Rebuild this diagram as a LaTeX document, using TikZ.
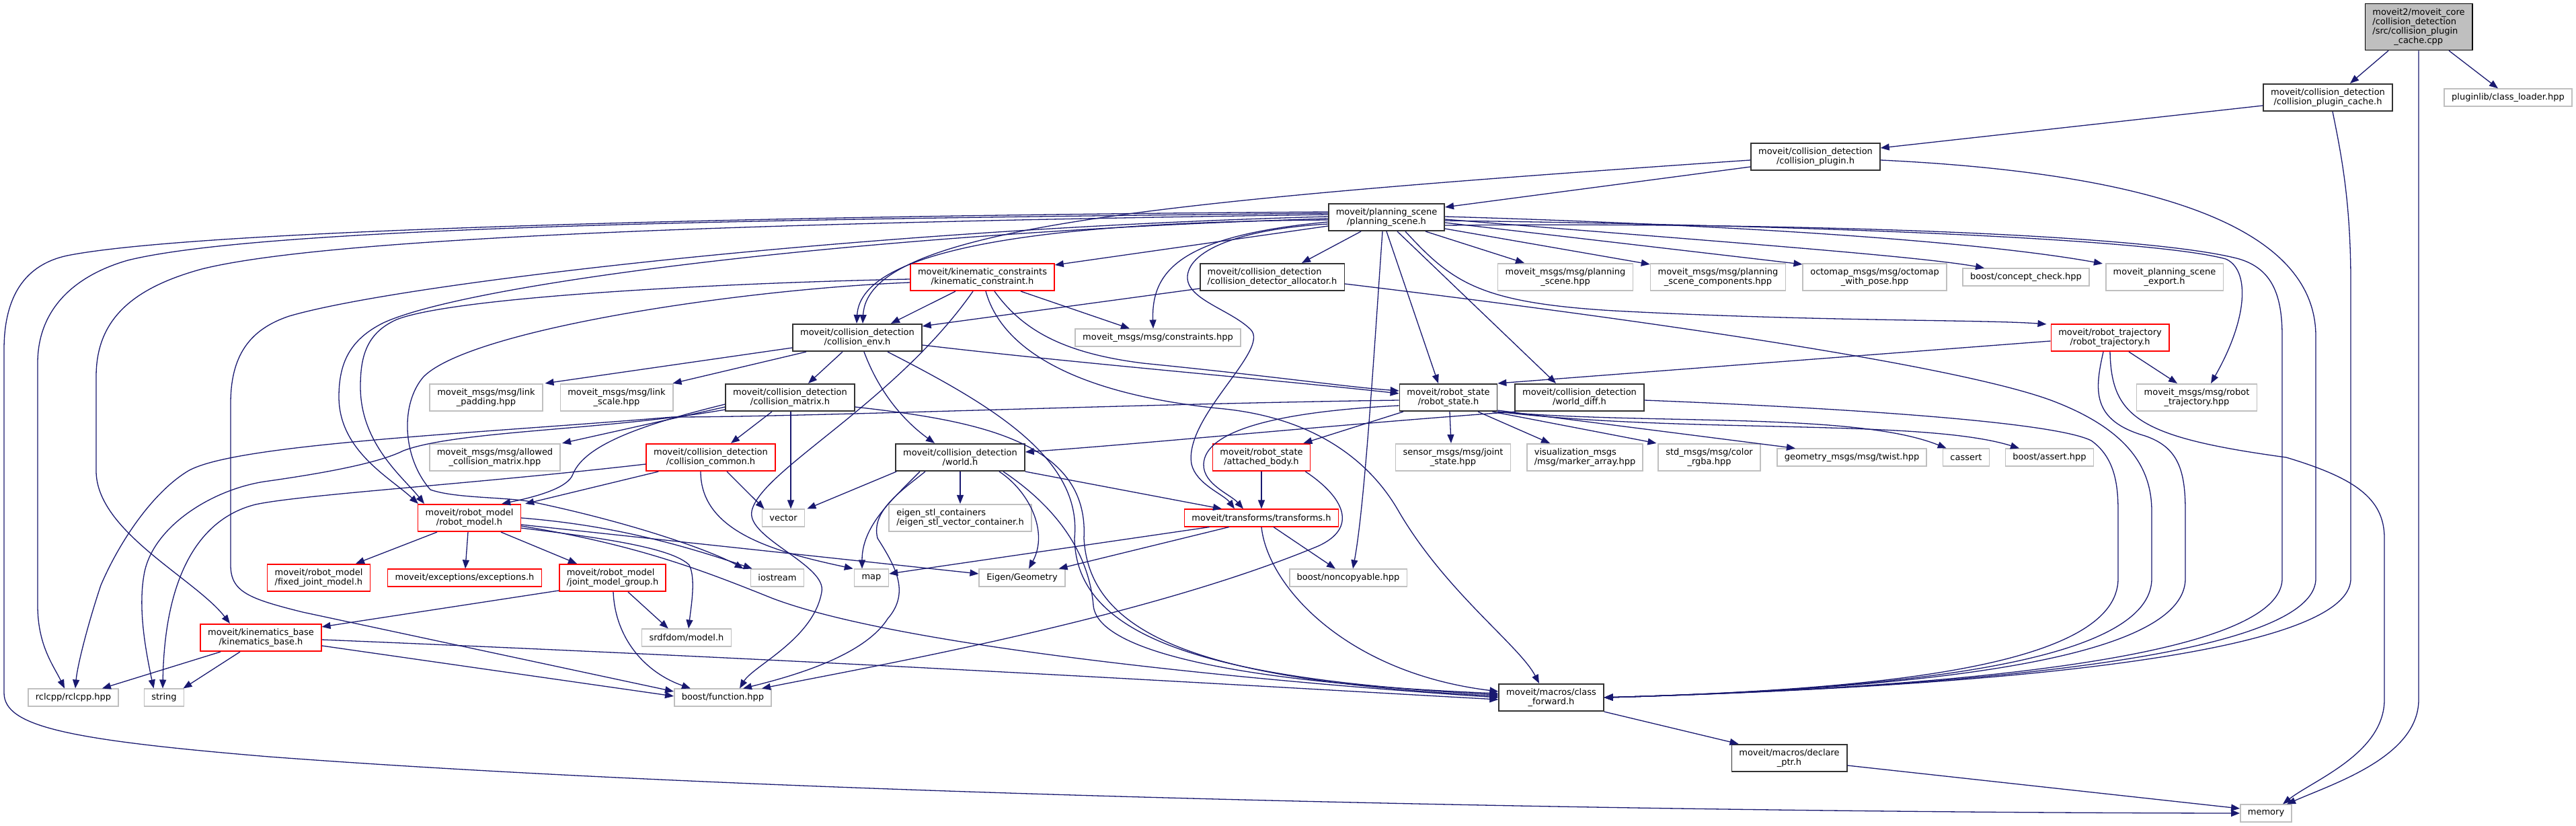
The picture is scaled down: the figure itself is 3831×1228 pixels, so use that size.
\documentclass[tikz,border=0pt]{standalone}
\usepackage{fontspec}
\usepackage{xcolor}
\usepackage{tikz}
\usetikzlibrary{arrows.meta, calc}
\newfontfamily\igfont{DejaVu Sans}
\definecolor{ig-edge}{RGB}{25,25,112}
\definecolor{ig-red}{RGB}{255,0,0}
\definecolor{ig-grey}{RGB}{191,191,191}
\definecolor{ig-dark}{RGB}{50,50,50}
\tikzset{
  ig@file/.style={
    draw=ig-dark, fill=white, line width=1.6pt,
    inner xsep=11pt, inner ysep=0pt, minimum height=25.5pt,
    align=center, font=\igfont\fontsize{13pt}{14pt}\selectfont
  },
  ig@red/.style={ig@file, draw=ig-red},
  ig@ext/.style={ig@file, draw=ig-grey},
  ig@root/.style={ig@file, draw=black, fill=ig-grey, minimum height=69pt, align=left},
  ig@two/.style={minimum height=40.5pt},
  ig@left/.style={align=left},
  ig@arr/.style={-{Triangle[length=13pt,width=10pt]}, draw=ig-edge, line width=1.3pt},
}
\begin{document}
\begin{tikzpicture}[x=1pt, y=-1pt]
  \path[use as bounding box, fill=white] (0,0) rectangle (3831,1228);

  \node[ig@root] (cpp) at (3597,40) {moveit2/moveit\_core\\/collision\_detection\\/src/collision\_plugin\\\hspace*{32pt}\_cache.cpp};
  \node[ig@file, ig@two] (pcache) at (3462,145) {moveit/collision\_detection\\/collision\_plugin\_cache.h};
  \node[ig@ext] (loader) at (3730,145) {pluginlib/class\_loader.hpp};
  \node[ig@file, ig@two] (plugin) at (2700,233) {moveit/collision\_detection\\/collision\_plugin.h};
  \node[ig@file, ig@two] (pscene) at (2062,323) {moveit/planning\_scene\\/planning\_scene.h};
  \node[ig@red, ig@two] (kin) at (1461,412) {moveit/kinematic\_constraints\\/kinematic\_constraint.h};
  \node[ig@file, ig@two, ig@left] (alloc) at (1892,412) {moveit/collision\_detection\\/collision\_detector\_allocator.h};
  \node[ig@ext, ig@two] (msgps) at (2328,412) {moveit\_msgs/msg/planning\\\_scene.hpp};
  \node[ig@ext, ig@two] (comps) at (2555,412) {moveit\_msgs/msg/planning\\\_scene\_components.hpp};
  \node[ig@ext, ig@two] (octo) at (2788,412) {octomap\_msgs/msg/octomap\\\_with\_pose.hpp};
  \node[ig@ext] (concept) at (3013,412) {boost/concept\_check.hpp};
  \node[ig@ext, ig@two] (pexport) at (3219,412) {moveit\_planning\_scene\\\_export.h};
  \node[ig@file, ig@two] (cenv) at (1275,502) {moveit/collision\_detection\\/collision\_env.h};
  \node[ig@ext] (constr) at (1722,502) {moveit\_msgs/msg/constraints.hpp};
  \node[ig@red, ig@two] (rtraj) at (3138,502) {moveit/robot\_trajectory\\/robot\_trajectory.h};
  \node[ig@ext, ig@two] (lpad) at (723,591) {moveit\_msgs/msg/link\\\_padding.hpp};
  \node[ig@ext, ig@two] (lscale) at (917,591) {moveit\_msgs/msg/link\\\_scale.hpp};
  \node[ig@file, ig@two] (cmatrix) at (1175,591) {moveit/collision\_detection\\/collision\_matrix.h};
  \node[ig@file, ig@two] (rstate) at (2154,591) {moveit/robot\_state\\/robot\_state.h};
  \node[ig@file, ig@two] (wdiff) at (2349,591) {moveit/collision\_detection\\/world\_diff.h};
  \node[ig@ext, ig@two] (rtrajmsg) at (3267,591) {moveit\_msgs/msg/robot\\\_trajectory.hpp};
  \node[ig@ext, ig@two] (acm) at (736,680) {moveit\_msgs/msg/allowed\\\_collision\_matrix.hpp};
  \node[ig@red, ig@two] (ccommon) at (1057,680) {moveit/collision\_detection\\/collision\_common.h};
  \node[ig@file, ig@two] (world) at (1428,680) {moveit/collision\_detection\\/world.h};
  \node[ig@red, ig@two] (abody) at (1876,680) {moveit/robot\_state\\/attached\_body.h};
  \node[ig@ext, ig@two] (jstate) at (2161,680) {sensor\_msgs/msg/joint\\\_state.hpp};
  \node[ig@ext, ig@two, ig@left] (marker) at (2357,680) {visualization\_msgs\\/msg/marker\_array.hpp};
  \node[ig@ext, ig@two] (rgba) at (2542,680) {std\_msgs/msg/color\\\_rgba.hpp};
  \node[ig@ext] (twist) at (2754,680) {geometry\_msgs/msg/twist.hpp};
  \node[ig@ext] (cassert) at (2924,680) {cassert};
  \node[ig@ext] (bassert) at (3048,680) {boost/assert.hpp};
  \node[ig@red, ig@two] (rmodel) at (698,770) {moveit/robot\_model\\/robot\_model.h};
  \node[ig@ext] (vector) at (1165,770) {vector};
  \node[ig@ext, ig@two, ig@left] (eigenstl) at (1428,770) {eigen\_stl\_containers\\/eigen\_stl\_vector\_container.h};
  \node[ig@red] (transforms) at (1876,770) {moveit/transforms/transforms.h};
  \node[ig@red, ig@two, ig@left] (fixed) at (474,859) {moveit/robot\_model\\/fixed\_joint\_model.h};
  \node[ig@red] (except) at (691,859) {moveit/exceptions/exceptions.h};
  \node[ig@red, ig@two, ig@left] (jmg) at (911,859) {moveit/robot\_model\\/joint\_model\_group.h};
  \node[ig@ext] (iostream) at (1156,859) {iostream};
  \node[ig@ext] (map) at (1296,859) {map};
  \node[ig@ext] (egeom) at (1520,859) {Eigen/Geometry};
  \node[ig@ext] (noncopy) at (2005,859) {boost/noncopyable.hpp};
  \node[ig@red, ig@two] (kbase) at (388,948) {moveit/kinematics\_base\\/kinematics\_base.h};
  \node[ig@ext] (srdf) at (1021,948) {srdfdom/model.h};
  \node[ig@ext] (rclcpp) at (109,1037) {rclcpp/rclcpp.hpp};
  \node[ig@ext] (string) at (244,1037) {string};
  \node[ig@ext] (bfunc) at (1075,1037) {boost/function.hpp};
  \node[ig@file, ig@two] (cfwd) at (2307,1037) {moveit/macros/class\\\_forward.h};
  \node[ig@file, ig@two] (dptr) at (2661,1127) {moveit/macros/declare\\\_ptr.h};
  \node[ig@ext] (memory) at (3370,1209) {memory};

  \draw[ig@arr] ($(cpp.south)+(-45,0)$) -- ($(pcache.north)+(33,0)$);
  \draw[ig@arr] ($(cpp.south)+(45,0)$) -- ($(loader.north)+(-15,0)$);
  \draw[ig@arr] (cpp.south) -- (3597,1040) .. controls (3597,1125) and (3470,1165) .. ($(memory.north east)+(-8,0)$);

  \draw[ig@arr] ($(pcache.west)+(0,12)$) -- ($(plugin.east)+(0,-13)$);
  \draw[ig@arr] ($(pcache.south)+(7,0)$) .. controls (3482,230) and (3496,300) .. (3496,420) -- (3496,860) .. controls (3496,990) and (2800,1025) .. (cfwd.east);

  \draw[ig@arr] ($(plugin.west)+(0,15)$) -- ($(pscene.east)+(0,-15)$);
  \draw[ig@arr] ($(plugin.west)+(0,5)$) .. controls (1700,300) and (1290,340) .. ($(cenv.north)+(8,0)$);
  \draw[ig@arr] ($(plugin.east)+(0,5)$) .. controls (3150,255) and (3444,320) .. (3444,500) -- (3444,860) .. controls (3444,990) and (2800,1025) .. (cfwd.east);

  \draw[ig@arr] ($(pscene.west)+(0,4)$) .. controls (1550,330) and (1280,370) .. ($(cenv.north)+(-1,0)$);
  \draw[ig@arr] ($(pscene.west)+(0,13)$) -- ($(kin.north east)+(0,3)$);
  \draw[ig@arr] ($(pscene.south)+(-38,0)$) -- ($(alloc.north)+(44,0)$);
  \draw[ig@arr] ($(pscene.south)+(58,0)$) -- ($(msgps.north)+(-61,0)$);
  \draw[ig@arr] ($(pscene.east)+(0,17)$) -- ($(comps.north west)+(0,2)$);
  \draw[ig@arr] ($(pscene.east)+(0,8)$) -- ($(octo.north west)+(0,2)$);
  \draw[ig@arr] ($(pscene.east)+(0,3)$) .. controls (2500,355) and (2850,380) .. ($(concept.north)+(-62,0)$);
  \draw[ig@arr] ($(pscene.east)+(0,-1)$) .. controls (2600,335) and (2950,360) .. ($(pexport.north west)+(-4,1)$);
  \draw[ig@arr] ($(pscene.east)+(0,5)$) .. controls (2700,335) and (3200,355) .. (3310,385) .. controls (3345,400) and (3345,470) .. ($(rtrajmsg.north)+(21,0)$);
  \draw[ig@arr] ($(pscene.east)+(0,12)$) .. controls (2700,330) and (3200,350) .. (3330,385) .. controls (3380,400) and (3394,440) .. (3394,500) -- (3394,860) .. controls (3394,990) and (2800,1025) .. (cfwd.east);
  \draw[ig@arr] ($(pscene.south)+(28,0)$) .. controls (2160,420) and (2200,450) .. (2400,462) .. controls (2700,478) and (2950,475) .. ($(rtraj.north west)+(-6,1)$);
  \draw[ig@arr] (pscene.south) -- ($(rstate.north)+(-15,0)$);
  \draw[ig@arr] ($(pscene.south)+(16,0)$) -- ($(wdiff.north)+(-35,0)$);
  \draw[ig@arr] ($(pscene.south)+(-6,0)$) .. controls (2045,500) and (2030,750) .. ($(noncopy.north)+(7,0)$);
  \draw[ig@arr] ($(pscene.west)+(0,7)$) .. controls (1760,350) and (1712,400) .. ($(constr.north)+(-7,0)$);
  \draw[ig@arr] ($(pscene.west)+(0,10)$) .. controls (1850,340) and (1770,370) .. (1766,410) .. controls (1763,445) and (1830,460) .. (1860,490) .. controls (1890,520) and (1760,620) .. (1772,690) .. controls (1779,720) and (1820,735) .. ($(transforms.north)+(-40,0)$);
  \draw[ig@arr] ($(pscene.west)+(0,-8)$) .. controls (1200,320) and (300,340) .. (100,380) .. controls (30,395) and (6,450) .. (6,520) -- (6,1030) .. controls (6,1080) and (100,1100) .. (400,1125) .. controls (1200,1185) and (2500,1208) .. (memory.west);
  \draw[ig@arr] ($(pscene.west)+(0,-6)$) .. controls (1200,325) and (400,335) .. (190,387) .. controls (110,410) and (56,460) .. (56,540) -- (56,900) .. controls (56,960) and (80,990) .. ($(rclcpp.north)+(-13,0)$);
  \draw[ig@arr] ($(pscene.west)+(0,-4)$) .. controls (1200,330) and (500,350) .. (300,400) .. controls (190,430) and (143,480) .. (143,560) -- (143,700) .. controls (143,790) and (290,860) .. ($(kbase.north)+(-46,0)$);
  \draw[ig@arr] ($(pscene.west)+(0,-1)$) .. controls (1300,340) and (600,420) .. (430,470) .. controls (370,490) and (343,530) .. (343,600) -- (343,840) .. controls (343,880) and (370,890) .. (450,910) -- ($(bfunc.west)+(0,-9)$);
  \draw[ig@arr] ($(pscene.west)+(0,2)$) .. controls (1300,345) and (700,420) .. (570,480) .. controls (520,505) and (504,540) .. (504,590) .. controls (504,670) and (580,710) .. ($(rmodel.north)+(-76,0)$);

  \draw[ig@arr] ($(kin.south)+(-40,0)$) -- ($(cenv.north)+(50,0)$);
  \draw[ig@arr] ($(kin.south)+(57,0)$) -- ($(constr.north)+(-42,0)$);
  \draw[ig@arr] ($(kin.west)+(0,3)$) .. controls (1100,420) and (680,440) .. (590,475) .. controls (545,495) and (536,530) .. (536,575) .. controls (536,660) and (600,710) .. ($(rmodel.north)+(-67,0)$);
  \draw[ig@arr] ($(kin.west)+(0,8)$) .. controls (1100,430) and (700,490) .. (630,560) .. controls (595,600) and (598,680) .. (640,728) .. controls (680,742) and (760,738) .. (800,748) .. controls (950,780) and (1060,820) .. ($(iostream.north west)+(-10,0)$);
  \draw[ig@arr] ($(kin.south)+(18,0)$) .. controls (1520,490) and (1580,525) .. (1700,540) .. controls (1900,560) and (2000,575) .. ($(rstate.west)+(0,-10)$);
  \draw[ig@arr] ($(kin.south)+(-14,0)$) .. controls (1330,600) and (1130,700) .. (1118,760) .. controls (1110,800) and (1230,840) .. (1222,880) .. controls (1210,950) and (1120,990) .. ($(bfunc.north)+(25,0)$);
  \draw[ig@arr] ($(kin.south)+(5,0)$) .. controls (1490,520) and (1600,585) .. (1811,607) .. controls (1960,620) and (2040,690) .. (2080,760) .. controls (2150,880) and (2260,960) .. ($(cfwd.north)+(-18,0)$);

  \draw[ig@arr] ($(alloc.west)+(0,17)$) -- ($(cenv.north east)+(0,4)$);
  \draw[ig@arr] ($(alloc.east)+(0,10)$) .. controls (2400,470) and (2900,540) .. (3050,595) .. controls (3170,640) and (3200,700) .. (3200,760) -- (3200,860) .. controls (3200,990) and (2800,1025) .. (cfwd.east);

  \draw[ig@arr] ($(cenv.west)+(0,15)$) -- ($(lpad.north east)+(3,0)$);
  \draw[ig@arr] ($(cenv.south)+(-76,0)$) -- ($(lscale.north east)+(-1,0)$);
  \draw[ig@arr] ($(cenv.south)+(-22,0)$) -- ($(cmatrix.north)+(27,0)$);
  \draw[ig@arr] ($(cenv.south)+(10,0)$) .. controls (1310,590) and (1350,630) .. ($(world.north)+(-38,0)$);
  \draw[ig@arr] ($(cenv.east)+(0,11)$) .. controls (1600,540) and (1900,565) .. ($(rstate.west)+(0,-6)$);
  \draw[ig@arr] ($(cenv.south)+(45,0)$) .. controls (1470,600) and (1610,680) .. (1598,800) .. controls (1600,950) and (1800,1010) .. ($(cfwd.west)+(0,-4)$);

  \draw[ig@arr] ($(cmatrix.south)+(-27,0)$) -- ($(ccommon.north)+(30,0)$);
  \draw[ig@arr] ($(cmatrix.west)+(0,14)$) -- ($(acm.north east)+(2,0)$);
  \draw[ig@arr] ($(cmatrix.west)+(0,10)$) .. controls (960,630) and (870,660) .. (852,705) .. controls (845,725) and (800,738) .. ($(rmodel.north east)+(-29,0)$);
  \draw[ig@arr] ($(cmatrix.west)+(0,18)$) .. controls (900,640) and (680,640) .. (600,670) .. controls (560,690) and (470,705) .. (400,715) .. controls (320,725) and (230,780) .. (215,850) .. controls (205,900) and (215,960) .. ($(string.north west)+(15,0)$);
  \draw[ig@arr] ($(cmatrix.south)+(1,0)$) -- ($(vector.north)+(11,0)$);
  \draw[ig@arr] ($(cmatrix.east)+(0,14)$) .. controls (1450,625) and (1620,655) .. (1612,800) .. controls (1620,950) and (1800,1012) .. ($(cfwd.west)+(0,-2)$);

  \draw[ig@arr] ($(ccommon.south)+(24,0)$) -- ($(vector.north west)+(4,0)$);
  \draw[ig@arr] ($(ccommon.south)+(-15,0)$) .. controls (1042,790) and (1150,820) .. ($(map.north west)+(-1,0)$);
  \draw[ig@arr] ($(ccommon.south west)+(19,0)$) -- ($(rmodel.north east)+(6,0)$);
  \draw[ig@arr] ($(ccommon.west)+(0,10)$) .. controls (700,720) and (450,735) .. (380,750) .. controls (300,770) and (245,850) .. ($(string.north)+(-2,0)$);

  \draw[ig@arr] (world.south) -- (eigenstl.north);
  \draw[ig@arr] ($(world.south west)+(2,0)$) -- ($(vector.north east)+(3,0)$);
  \draw[ig@arr] ($(world.south)+(-60,0)$) .. controls (1330,740) and (1282,780) .. ($(map.north)+(-14,0)$);
  \draw[ig@arr] ($(world.south)+(-52,0)$) .. controls (1340,730) and (1295,760) .. (1305,800) .. controls (1330,840) and (1355,880) .. (1320,920) .. controls (1285,975) and (1180,1005) .. ($(bfunc.north)+(30,0)$);
  \draw[ig@arr] ($(world.south)+(58,0)$) .. controls (1530,730) and (1560,790) .. ($(egeom.north)+(10,0)$);
  \draw[ig@arr] ($(world.south)+(64,0)$) .. controls (1580,760) and (1620,830) .. (1626,900) .. controls (1632,970) and (1850,1015) .. ($(cfwd.west)+(0,-6)$);
  \draw[ig@arr] (world.south east) -- ($(transforms.north)+(-59,0)$);

  \draw[ig@arr] ($(wdiff.south west)+(2,0)$) .. controls (2000,630) and (1700,660) .. ($(world.east)+(0,-8)$);
  \draw[ig@arr] ($(wdiff.east)+(0,4)$) .. controls (2700,605) and (3050,625) .. (3110,655) .. controls (3145,680) and (3150,720) .. (3150,760) -- (3150,860) .. controls (3150,990) and (2800,1025) .. (cfwd.east);

  \draw[ig@arr] ($(rstate.south)+(-67,0)$) -- ($(abody.north east)+(-11,0)$);
  \draw[ig@arr] ($(rstate.south)+(2,0)$) -- ($(jstate.north)+(-3,0)$);
  \draw[ig@arr] ($(rstate.south)+(44,0)$) -- ($(marker.north)+(-52,0)$);
  \draw[ig@arr] ($(rstate.south east)+(-8,0)$) -- ($(rgba.north west)+(-2,0)$);
  \draw[ig@arr] ($(rstate.south east)+(0,-2)$) -- ($(twist.north west)+(28,0)$);
  \draw[ig@arr] (rstate.south east) .. controls (2450,632) and (2760,612) .. ($(cassert.north west)+(6,0)$);
  \draw[ig@arr] (rstate.south east) .. controls (2500,645) and (2860,622) .. ($(bassert.north)+(-45,0)$);
  \draw[ig@arr] ($(rstate.west)+(0,12)$) .. controls (1900,612) and (1792,640) .. (1790,690) .. controls (1789,720) and (1830,735) .. ($(transforms.north)+(-27,0)$);
  \draw[ig@arr] ($(rstate.west)+(0,4)$) .. controls (1700,600) and (1200,620) .. (1000,620) .. controls (700,645) and (350,660) .. (280,700) .. controls (230,730) and (180,800) .. (150,870) .. controls (130,930) and (115,990) .. ($(rclcpp.north)+(3,0)$);

  \draw[ig@arr] ($(rtraj.west)+(0,5)$) -- (rstate.north east);
  \draw[ig@arr] ($(rtraj.south)+(28,0)$) -- ($(rtrajmsg.north)+(-29,0)$);
  \draw[ig@arr] ($(rtraj.south)+(-10,0)$) .. controls (3115,580) and (3110,625) .. (3190,648) .. controls (3240,665) and (3250,700) .. (3250,760) -- (3250,860) .. controls (3250,990) and (2800,1025) .. (cfwd.east);
  \draw[ig@arr] (rtraj.south) .. controls (3140,620) and (3180,650) .. (3400,680) .. controls (3500,710) and (3546,740) .. (3546,800) -- (3546,1040) .. controls (3546,1120) and (3440,1160) .. ($(memory.north east)+(-14,0)$);

  \draw[ig@arr] ($(transforms.south west)+(38,0)$) -- ($(map.east)+(0,-6)$);
  \draw[ig@arr] ($(transforms.south west)+(67,0)$) -- ($(egeom.north east)+(-10,0)$);
  \draw[ig@arr] ($(transforms.south)+(18,0)$) -- ($(noncopy.north)+(-19,0)$);
  \draw[ig@arr] (transforms.south) .. controls (1885,870) and (2000,1000) .. ($(cfwd.west)+(0,-9)$);

  \draw[ig@arr] (abody.south) -- (transforms.north);
  \draw[ig@arr] ($(abody.south east)+(-8,0)$) .. controls (2000,740) and (2020,785) .. (1960,812) .. controls (1700,920) and (1300,990) .. ($(bfunc.north)+(58,0)$);

  \draw[ig@arr] ($(rmodel.south)+(-48,0)$) -- ($(fixed.north)+(55,0)$);
  \draw[ig@arr] ($(rmodel.south)+(-2,0)$) -- ($(except.north)+(1,0)$);
  \draw[ig@arr] ($(rmodel.south)+(47,0)$) -- ($(jmg.north)+(-53,0)$);
  \draw[ig@arr] (rmodel.east) .. controls (900,780) and (1000,805) .. ($(iostream.north west)+(3,0)$);
  \draw[ig@arr] ($(rmodel.east)+(0,10)$) -- ($(egeom.west)+(0,-6)$);
  \draw[ig@arr] ($(rmodel.east)+(0,15)$) .. controls (900,800) and (1000,815) .. (1025,840) .. controls (1035,860) and (1028,900) .. ($(srdf.north)+(3,0)$);
  \draw[ig@arr] ($(rmodel.east)+(0,12)$) .. controls (950,810) and (1050,850) .. (1150,890) .. controls (1350,965) and (1900,1015) .. (cfwd.west);

  \draw[ig@arr] ($(jmg.west)+(0,19)$) -- ($(kbase.north east)+(0,5)$);
  \draw[ig@arr] ($(jmg.south)+(23,0)$) -- ($(srdf.north west)+(40,0)$);
  \draw[ig@arr] ($(jmg.south)+(1,0)$) .. controls (915,950) and (960,1000) .. ($(bfunc.north)+(-48,0)$);

  \draw[ig@arr] ($(kbase.south)+(-60,0)$) -- ($(rclcpp.north east)+(-25,0)$);
  \draw[ig@arr] ($(kbase.south)+(-31,0)$) -- ($(string.north east)+(-2,0)$);
  \draw[ig@arr] ($(kbase.east)+(0,12)$) -- ($(bfunc.west)+(0,-2)$);
  \draw[ig@arr] ($(kbase.east)+(0,3)$) .. controls (1300,985) and (1900,1022) .. ($(cfwd.west)+(0,3)$);

  \draw[ig@arr] (cfwd.south east) -- ($(dptr.north west)+(11,0)$);
  \draw[ig@arr] ($(dptr.east)+(0,11)$) -- ($(memory.west)+(0,-7)$);
\end{tikzpicture}
\end{document}
